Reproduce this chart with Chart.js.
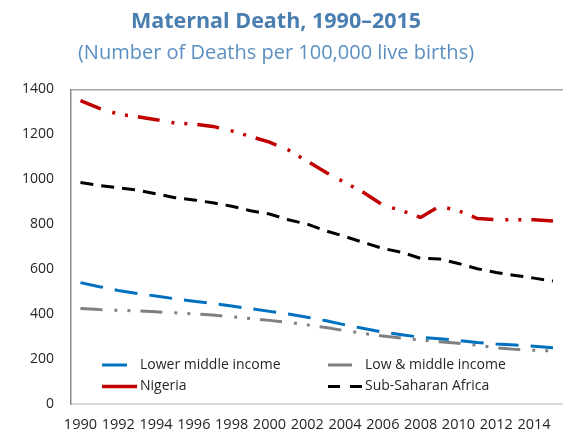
<!DOCTYPE html>
<html><head><meta charset="utf-8">
<script src="https://cdn.jsdelivr.net/npm/chart.js@4.4.0/dist/chart.umd.min.js"></script>
<style>html,body{margin:0;padding:0;background:#fff;} #wrap{width:565px;height:435px;position:relative;}</style>
</head><body><div id="wrap"><canvas id="c" width="565" height="435"></canvas></div>
<script>
const years = ['1990','1991','1992','1993','1994','1995','1996','1997','1998','1999','2000','2001','2002','2003','2004','2005','2006','2007','2008','2009','2010','2011','2012','2013','2014','2015'];
const xTickLabels = ['1990','1992','1994','1996','1998','2000','2002','2004','2006','2008','2010','2012','2014'];
const yTicks = [0,200,400,600,800,1000,1200,1400];
const lowerMiddleIncome = [540,522,505,492,480,468,457,447,436,424,412,400,386,370,352,336,320,308,297,290,283,274,267,262,257,250];
const lowAndMiddleIncome = [425,420,417,414,410,406,401,396,388,380,372,363,352,340,326,314,302,293,285,277,270,262,250,243,239,236];
const nigeria = [1350,1315,1290,1278,1265,1250,1245,1235,1215,1190,1165,1130,1080,1030,985,940,885,860,830,880,860,825,820,820,820,814];
const subSaharanAfrica = [985,972,962,952,935,918,908,895,880,860,845,820,800,770,745,718,692,675,648,645,625,602,585,572,560,547];
const seriesNames = ['Lower middle income','Low & middle income','Nigeria','Sub-Saharan Africa'];

const FONT = "'Open Sans', sans-serif";

const legendItems = [
  {ds:0, col:0, row:0, dash:[25,100], len:25},
  {ds:2, col:0, row:1, dash:[], len:35},
  {ds:1, col:1, row:0, dash:[24,100], len:24},
  {ds:3, col:1, row:1, dash:[12,10], len:34}
];

const innerLegend = {
  id:'innerLegend',
  afterDraw(chart){
    const {ctx, chartArea} = chart;
    const colSample = [chartArea.left+31, chartArea.left+257];
    const colText = [chartArea.left+69, chartArea.left+294];
    const rowY = [chartArea.bottom-39, chartArea.bottom-17.5];
    ctx.save();
    legendItems.forEach(it=>{
      const ds = chart.data.datasets[it.ds];
      const y = rowY[it.row];
      ctx.beginPath();
      ctx.setLineDash(it.dash);
      ctx.lineCap='butt';
      ctx.strokeStyle = ds.borderColor;
      ctx.lineWidth = ds.borderWidth;
      ctx.moveTo(colSample[it.col], y);
      ctx.lineTo(colSample[it.col]+it.len, y);
      ctx.stroke();
      ctx.setLineDash([]);
      ctx.fillStyle = '#262626';
      ctx.font = "14px " + FONT;
      ctx.textBaseline = 'middle';
      ctx.textAlign = 'left';
      ctx.fillText(ds.label, colText[it.col], y);
    });
    ctx.restore();
  }
};

new Chart(document.getElementById('c'), {
  type:'line',
  data:{
    labels: years,
    datasets:[
      {label:seriesNames[0], data:lowerMiddleIncome, borderColor:'#0070c0', backgroundColor:'#0070c0', borderWidth:3, borderDash:[23,12]},
      {label:seriesNames[1], data:lowAndMiddleIncome, borderColor:'#808080', backgroundColor:'#808080', borderWidth:3, borderDash:[22,12,3,10,3,10]},
      {label:seriesNames[2], data:nigeria, borderColor:'#c00000', backgroundColor:'#c00000', borderWidth:3.5, borderDash:[22,12,3,10,3,10]},
      {label:seriesNames[3], data:subSaharanAfrica, borderColor:'#000000', backgroundColor:'#000000', borderWidth:3, borderDash:[13,8]}
    ]
  },
  options:{
    responsive:false,
    animation:false,
    devicePixelRatio:1,
    layout:{padding:{left:-18,right:-5,top:0,bottom:0}},
    elements:{point:{radius:0}, line:{tension:0, borderCapStyle:'butt', fill:false}},
    plugins:{
      legend:{display:false},
      tooltip:{enabled:false},
      title:{display:true, text:'Maternal Death, 1990\u20132015', color:'#4a7eb0', font:{family:FONT, size:21.5, weight:'bold', lineHeight:1.2}, padding:{top:9,bottom:3}},
      subtitle:{display:true, text:'(Number of Deaths per 100,000 live births)', color:'#5b8fc2', font:{family:FONT, size:20, weight:'normal', lineHeight:1.2}, padding:{top:3,bottom:24.5}}
    },
    scales:{
      x:{
        type:'category', offset:true,
        grid:{display:false, drawTicks:false},
        border:{display:true, color:'#d9d9d9', width:2},
        ticks:{autoSkip:false, maxRotation:0, minRotation:0, padding:12, color:'#262626', font:{family:FONT, size:14.5},
          callback:function(v){const l=this.getLabelForValue(v); return xTickLabels.includes(l)?l:'';}},
        afterFit:(a)=>{a.height=31;}
      },
      xTop:{
        type:'category', position:'top', offset:true,
        grid:{display:false, drawTicks:false},
        border:{display:true, color:'#a6a6a6', width:1.5},
        ticks:{display:false},
        afterFit:(a)=>{a.height=0;}
      },
      y:{
        min:yTicks[0], max:yTicks[yTicks.length-1],
        grid:{display:false, drawTicks:false},
        border:{display:true, color:'#8c8c8c', width:1.5},
        ticks:{stepSize:yTicks[1]-yTicks[0], padding:17, color:'#262626', font:{family:FONT, size:14},
          callback:(v)=>String(v)},
        afterFit:(a)=>{a.width=89;}
      }
    }
  },
  plugins:[innerLegend]
});
</script>
</body></html>
